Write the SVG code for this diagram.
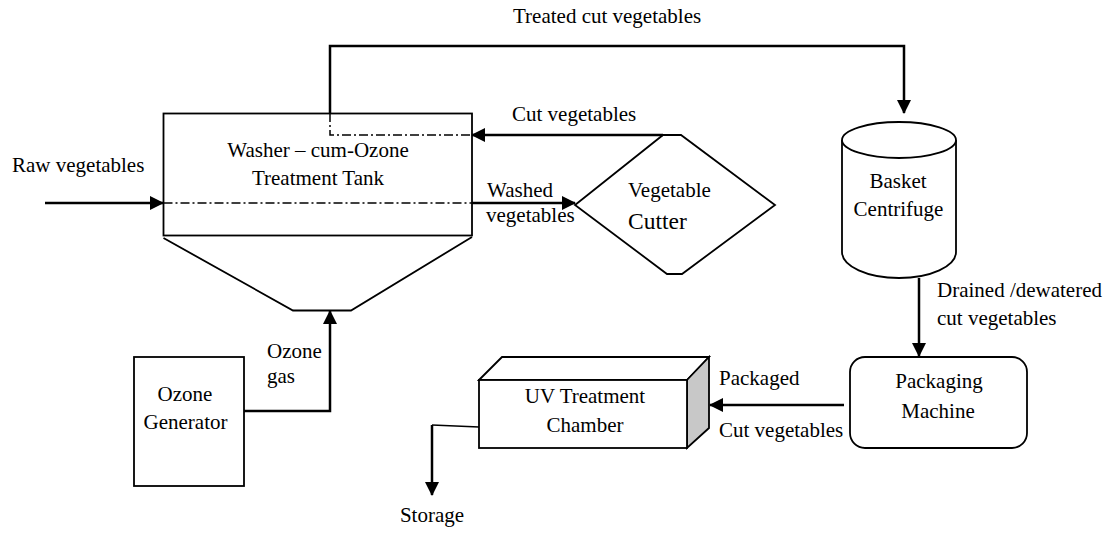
<svg xmlns="http://www.w3.org/2000/svg" width="1109" height="533" viewBox="0 0 1109 533" font-family="'Liberation Serif', 'DejaVu Serif', serif">
<style>
text{font-family:'Liberation Serif','DejaVu Serif',serif;font-size:21px;fill:#000}
.shape{fill:#fff;stroke:#000;stroke-width:1.8}
.conn{fill:none;stroke:#000;stroke-width:2.5}
.dd{fill:none;stroke:#000;stroke-width:1.5;stroke-dasharray:9 3 2 3}
.mid{text-anchor:middle}
</style>
<defs>
<marker id="arr" markerUnits="userSpaceOnUse" markerWidth="14" markerHeight="14" refX="13" refY="7" orient="auto">
<path d="M0,0 L14,7 L0,14 z" fill="#000"/>
</marker>
</defs>
<rect width="1109" height="533" fill="#fff"/>

<g id="washer-tank">
<rect class="shape" x="163.5" y="113.5" width="308.5" height="122"/>
<path class="shape" d="M163.5,238 L293,310.5 L351,310.5 L472,237" fill="none"/>
<path class="dd" d="M330,113 V135 H472"/>
<path class="dd" d="M163.5,203 H472"/>
<text class="mid" x="318" y="157">Washer – cum-Ozone</text>
<text class="mid" x="318" y="185">Treatment Tank</text>
</g>

<g id="vegetable-cutter">
<polygon class="shape" points="663,135 681,135 775,205 682,274 667,274 575,205"/>
<text x="628" y="197">Vegetable</text>
<text x="628" y="229" style="font-size:23.5px">Cutter</text>
</g>

<g id="basket-centrifuge">
<path class="shape" d="M842,140 V252 A57,26 0 0 0 956,252 V140"/>
<ellipse class="shape" cx="899" cy="140" rx="57" ry="18"/>
<text class="mid" x="898" y="188">Basket</text>
<text class="mid" x="898.5" y="216">Centrifuge</text>
</g>

<g id="packaging-machine">
<rect class="shape" x="850" y="357" width="177" height="91" rx="15" ry="15"/>
<text class="mid" x="939" y="388">Packaging</text>
<text class="mid" x="938" y="418">Machine</text>
</g>

<g id="uv-chamber">
<polygon class="shape" points="479,380 502,357 709,357 687,380"/>
<polygon points="687,380 709,357 709,428 687,448" fill="#c8c8c8" stroke="#000" stroke-width="1.8"/>
<rect class="shape" x="479" y="380" width="208" height="68"/>
<text class="mid" x="585" y="403">UV Treatment</text>
<text class="mid" x="585" y="432">Chamber</text>
</g>

<g id="ozone-generator">
<rect class="shape" x="134" y="357" width="110" height="129"/>
<text class="mid" x="185" y="401">Ozone</text>
<text class="mid" x="185.5" y="429">Generator</text>
</g>

<g id="connectors">
<path class="conn" d="M45,203 H163" marker-end="url(#arr)"/>
<path class="conn" d="M330,113 V46 H904 V113" marker-end="url(#arr)"/>
<path class="conn" d="M663,135 H472" marker-end="url(#arr)"/>
<path class="conn" d="M472,203 H575" marker-end="url(#arr)"/>
<path class="conn" d="M919,278 V356" marker-end="url(#arr)"/>
<path class="conn" d="M844,405 H710" marker-end="url(#arr)"/>
<path class="conn" d="M244,411 H330 V311" marker-end="url(#arr)"/>
<path d="M479,427 L432,425" fill="none" stroke="#000" stroke-width="1.5"/>
<path class="conn" d="M432,425 V495" marker-end="url(#arr)"/>
</g>

<g id="labels">
<text x="12" y="172">Raw vegetables</text>
<text x="513" y="23">Treated cut vegetables</text>
<text x="512" y="121">Cut vegetables</text>
<text x="487" y="197">Washed</text>
<text x="486" y="222">vegetables</text>
<text x="937" y="297">Drained /dewatered</text>
<text x="937" y="325">cut vegetables</text>
<text x="719" y="385">Packaged</text>
<text x="719" y="437">Cut vegetables</text>
<text x="267" y="358">Ozone</text>
<text x="267" y="383">gas</text>
<text class="mid" x="432" y="522">Storage</text>
</g>
</svg>
